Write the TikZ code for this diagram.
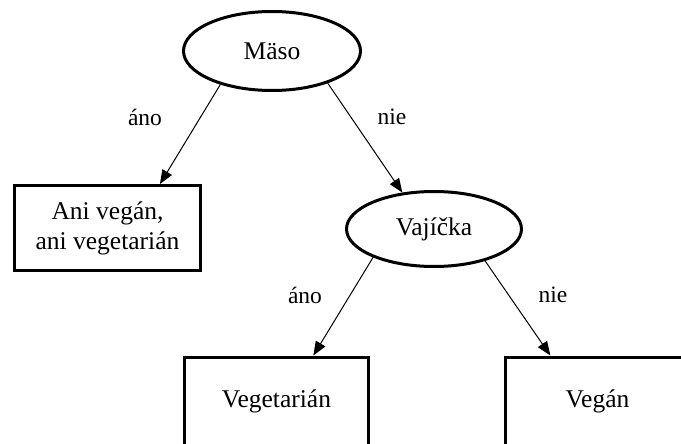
\documentclass[tikz,border=0pt]{standalone}
\usepackage{fontspec}
\setmainfont{Liberation Serif}
\usetikzlibrary{shapes.geometric,arrows.meta}
\tikzset{
  decision/.style={ellipse, draw, line width=3pt, inner sep=0pt, font=\fontsize{25.5}{30}\selectfont},
  leafbox/.style={rectangle, draw, line width=3pt, inner sep=0pt, align=center, font=\fontsize{25.5}{30}\selectfont},
  branch/.style={line width=1pt, -{Triangle[length=14pt,width=11pt]}},
  edgelabel/.style={font=\fontsize{23.5}{28}\selectfont, inner sep=0pt}
}
\begin{document}
\begin{tikzpicture}[x=1pt,y=-1pt]
\clip (0,0) rectangle (681,444);
\fill[white] (0,0) rectangle (681,444);
\node[decision, minimum width=177pt, minimum height=79pt] (maso) at (272,51) {Mäso};
\node[decision, minimum width=175pt, minimum height=75pt] (vaj) at (434,229) {Vajíčka};
\node[leafbox, minimum width=186pt, minimum height=85pt] (ani) at (107.5,228) {Ani vegán,\\ani vegetarián};
\node[leafbox, minimum width=184pt, minimum height=88pt] (veg) at (276.5,401) {Vegetarián};
\node[leafbox, minimum width=184pt, minimum height=88pt] (vegan) at (597.5,401) {Vegán};
\draw[branch] (maso.213) -- (ani.40);
\draw[branch] (maso.330) -- (vaj.131);
\draw[branch] (vaj.205) -- (veg.51);
\draw[branch] (vaj.328) -- (vegan.136);
\node[edgelabel] (l1) at (145,117) {áno};
\node[edgelabel] (l2) at (392,117) {nie};
\node[edgelabel] (l3) at (305,295) {áno};
\node[edgelabel] (l4) at (553,295) {nie};
\end{tikzpicture}
\end{document}
